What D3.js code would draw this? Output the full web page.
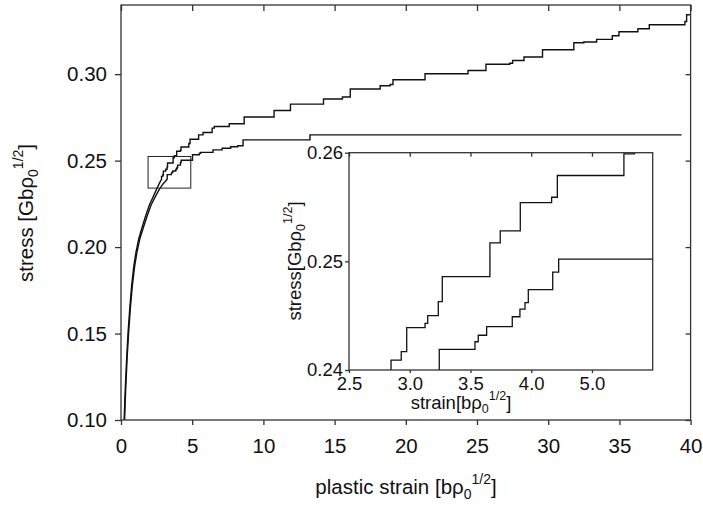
<!DOCTYPE html>
<html>
<head>
<meta charset="utf-8">
<script src="https://cdn.jsdelivr.net/npm/d3@7"></script>
<style>
  body { margin: 0; background: #fff; }
  text { font-family: "Liberation Sans", Arial, sans-serif; fill: #111; }
</style>
</head>
<body>
<div id="chart"></div>
<script>
// tick values / labels
var mainXTicks = [0, 5, 10, 15, 20, 25, 30, 35, 40];
var mainYTicks = [0.10, 0.15, 0.20, 0.25, 0.30];
var insetXTicks = [2.5, 3.0, 3.5, 4.0, 4.5];
var insetXLabels = ["2.5", "3.0", "3.5", "4.0", "5.0"];
var insetYTicks = [0.24, 0.25, 0.26];

// curve 1 (upper): smooth hardening part, then strain bursts [strain, new stress]
var upperSmooth = [[0.22,0.100],[0.30,0.118],[0.40,0.136],[0.50,0.151],[0.62,0.165],[0.75,0.178],
  [0.90,0.189],[1.05,0.197],[1.25,0.205],[1.5,0.212],[1.75,0.2185],[2.0,0.2245],[2.25,0.229],
  [2.5,0.2335],[2.7,0.237],[2.846,0.2392]];
var upperSteps = [[2.846,0.2409],[2.93,0.2417],[2.975,0.2439],[3.126,0.2443],[3.148,0.2450],
  [3.235,0.2463],[3.268,0.2486],[3.66,0.2517],[3.745,0.2528],[3.91,0.2554],[4.168,0.2559],
  [4.215,0.2579],[4.763,0.2599],[4.85,0.2624],[5.45,0.2649],[5.76,0.2663],[6.4,0.2688],
  [6.55,0.2697],[7.6,0.2713],[8.65,0.2752],[10.75,0.2790],[11.9,0.2827],[14.22,0.2856],
  [15.55,0.2868],[16.1,0.2914],[18.2,0.2933],[18.9,0.2940],[19.1,0.2968],[21.35,0.3002],
  [24.37,0.3021],[25.63,0.3057],[27.3,0.3063],[27.5,0.3079],[28.3,0.3099],[29.6,0.3141],
  [31.8,0.3182],[32.5,0.3186],[33.4,0.3201],[34.5,0.3222],[34.97,0.3245],[36.3,0.3263],
  [37.1,0.3286],[39.6,0.3305],[39.72,0.3344]];
var upperEnd = 39.95;

// curve 2 (lower)
var lowerSmooth = [[0.25,0.100],[0.33,0.118],[0.43,0.136],[0.54,0.151],[0.66,0.165],[0.80,0.178],
  [0.96,0.189],[1.12,0.197],[1.33,0.205],[1.6,0.212],[1.86,0.2185],[2.12,0.2245],[2.4,0.229],
  [2.7,0.2335],[2.95,0.2365],[3.243,0.2392]];
var lowerSteps = [[3.243,0.2419],[3.537,0.2426],[3.564,0.2432],[3.633,0.2440],[3.844,0.2449],
  [3.907,0.2456],[3.949,0.2462],[3.976,0.2474],[4.177,0.2490],[4.226,0.2502],[5.02,0.2534],
  [5.5,0.2543],[5.6,0.2548],[6.46,0.2562],[7.1,0.2572],[7.7,0.2580],[8.2,0.2586],
  [8.57,0.2620],[13.27,0.2649]];
var lowerEnd = 39.37;

// zoom box drawn in main plot [x0, x1, y0, y1]
var zoomBox = [1.9, 4.9, 0.2341, 0.2524];

var W = 703, H = 507;
var svg = d3.select("#chart").append("svg").attr("width", W).attr("height", H);

// build vertex list: smooth part + vertical/horizontal steps
function curvePoints(smooth, steps, xEnd) {
    var pts = smooth.slice();
    var lastY = pts[pts.length - 1][1];
    steps.forEach(function (s) {
        pts.push([s[0], lastY]);
        pts.push([s[0], s[1]]);
        lastY = s[1];
    });
    pts.push([xEnd, lastY]);
    return pts;
}
var curves = [curvePoints(upperSmooth, upperSteps, upperEnd),
              curvePoints(lowerSmooth, lowerSteps, lowerEnd)];

// ---------- main plot ----------
var x = d3.scaleLinear().domain([0, 40]).range([121, 690.6]);
var y = d3.scaleLinear().domain([0.10, 0.34]).range([420, 5]);

svg.append("clipPath").attr("id", "clipMain").append("rect")
    .attr("x", x(0)).attr("y", y(0.34)).attr("width", x(40) - x(0)).attr("height", y(0.10) - y(0.34));

var line = d3.line().x(function (d) { return x(d[0]); }).y(function (d) { return y(d[1]); });

svg.append("g").attr("clip-path", "url(#clipMain)")
    .selectAll("path.curve").data(curves).enter().append("path")
    .attr("class", "curve")
    .attr("d", line)
    .attr("fill", "none").attr("stroke", "#111").attr("stroke-width", 1.4);

svg.append("rect")
    .attr("x", x(zoomBox[0])).attr("y", y(zoomBox[3]))
    .attr("width", x(zoomBox[1]) - x(zoomBox[0])).attr("height", y(zoomBox[2]) - y(zoomBox[3]))
    .attr("fill", "none").attr("stroke", "#222").attr("stroke-width", 1);

function styleAxis(g, fs) {
    g.select(".domain").remove();
    g.selectAll(".tick line").attr("stroke", "#333").attr("stroke-width", 1.3);
    g.selectAll("text").style("font-size", fs).attr("fill", "#111");
}

var fmt2 = d3.format(".2f");
svg.append("g").attr("transform", "translate(0," + y(0.10) + ")")
    .call(d3.axisBottom(x).tickValues(mainXTicks).tickSize(5).tickPadding(13))
    .call(styleAxis, "20.5px");
svg.append("g").attr("transform", "translate(0," + y(0.34) + ")")
    .call(d3.axisTop(x).tickValues(mainXTicks).tickSize(-6).tickFormat(""))
    .call(styleAxis, "20.5px");
svg.append("g").attr("transform", "translate(" + x(0) + ",0)")
    .call(d3.axisLeft(y).tickValues(mainYTicks).tickSize(6).tickPadding(8).tickFormat(fmt2))
    .call(styleAxis, "20.5px");
svg.append("g").attr("transform", "translate(" + x(40) + ",0)")
    .call(d3.axisRight(y).tickValues(mainYTicks).tickSize(-5).tickFormat(""))
    .call(styleAxis, "20.5px");

svg.append("rect")
    .attr("x", x(0)).attr("y", y(0.34)).attr("width", x(40) - x(0)).attr("height", y(0.10) - y(0.34))
    .attr("fill", "none").attr("stroke", "#333").attr("stroke-width", 1.3);

// axis titles with sub/superscripts
function label(g, main, fs, sfs, subDy, supDy) {
    var t = g.append("text").attr("text-anchor", "middle").style("font-size", fs);
    t.append("tspan").text(main);
    t.append("tspan").style("font-size", sfs).attr("dy", subDy).text("0");
    t.append("tspan").style("font-size", sfs).attr("dy", supDy).text("1/2");
    t.append("tspan").attr("dy", -(subDy + supDy)).text("]");
    return t;
}

label(svg.append("g").attr("transform", "translate(406,494)"),
      "plastic strain [b\u03c1", "20.5px", "14px", 5, -15);
label(svg.append("g").attr("transform", "translate(33,213) rotate(-90)"),
      "stress [Gb\u03c1", "20.5px", "14px", 5, -15);

// ---------- inset ----------
var xi = d3.scaleLinear().domain([2.5, 5.0]).range([349, 652.7]);
var yi = d3.scaleLinear().domain([0.24, 0.26]).range([370, 152.7]);

svg.append("rect")
    .attr("x", xi(2.5)).attr("y", yi(0.26)).attr("width", xi(5) - xi(2.5)).attr("height", yi(0.24) - yi(0.26))
    .attr("fill", "#fff");

svg.append("clipPath").attr("id", "clipInset").append("rect")
    .attr("x", xi(2.5)).attr("y", yi(0.26)).attr("width", xi(5) - xi(2.5)).attr("height", yi(0.24) - yi(0.26));

var lineI = d3.line().x(function (d) { return xi(d[0]); }).y(function (d) { return yi(d[1]); });

svg.append("g").attr("clip-path", "url(#clipInset)")
    .selectAll("path.icurve").data(curves).enter().append("path")
    .attr("class", "icurve")
    .attr("d", lineI)
    .attr("fill", "none").attr("stroke", "#111").attr("stroke-width", 1.3);

svg.append("g").attr("transform", "translate(0," + yi(0.24) + ")")
    .call(d3.axisBottom(xi).tickValues(insetXTicks).tickSize(3).tickPadding(4)
        .tickFormat(function (d, i) { return insetXLabels[i]; }))
    .call(styleAxis, "18.5px");
svg.append("g").attr("transform", "translate(0," + yi(0.26) + ")")
    .call(d3.axisTop(xi).tickValues(insetXTicks).tickSize(-4).tickFormat(""))
    .call(styleAxis, "18.5px");
svg.append("g").attr("transform", "translate(" + xi(2.5) + ",0)")
    .call(d3.axisLeft(yi).tickValues(insetYTicks).tickSize(4).tickPadding(2).tickFormat(fmt2))
    .call(styleAxis, "18.5px");

svg.append("rect")
    .attr("x", xi(2.5)).attr("y", yi(0.26)).attr("width", xi(5) - xi(2.5)).attr("height", yi(0.24) - yi(0.26))
    .attr("fill", "none").attr("stroke", "#333").attr("stroke-width", 1.3);

label(svg.append("g").attr("transform", "translate(461,409)"),
      "strain[b\u03c1", "18.5px", "12.5px", 4, -13);
label(svg.append("g").attr("transform", "translate(301,261) rotate(-90)"),
      "stress[Gb\u03c1", "18.5px", "12.5px", 4, -13);
</script>
</body>
</html>
